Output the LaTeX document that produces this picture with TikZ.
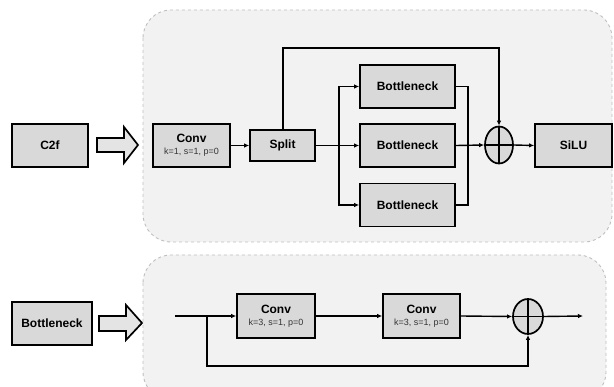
\documentclass[tikz,border=0pt]{standalone}
\usepackage{fontspec}
\setmainfont{Liberation Sans}
\usetikzlibrary{arrows.meta,shapes.geometric}
\definecolor{boxfill}{HTML}{D9D9D9}
\definecolor{panelfill}{HTML}{F2F2F2}
\definecolor{panelline}{HTML}{BFBFBF}
\definecolor{subtxt}{HTML}{333333}
\tikzset{
  blk/.style={draw=black,line width=1.7pt,fill=boxfill,inner sep=0pt,align=center,font=\fontsize{12}{13}\selectfont\bfseries},
  panel/.style={draw=panelline,dashed,line width=0.9pt,fill=panelfill,rounded corners=28pt},
  conn/.style={line width=1.4pt,-{Latex[length=5pt,width=4.5pt]}},
  wire/.style={line width=1.4pt},
  sumnode/.style={draw=black,line width=1.7pt,ellipse,fill=boxfill,inner sep=0pt},
  bigarrow/.style={draw=black,line width=1.7pt,fill=boxfill!70!white,line join=miter},
}
\newcommand{\sub}[1]{\\[-1pt]{\fontsize{9}{10}\selectfont\mdseries\color{subtxt}#1}}
\begin{document}
\begin{tikzpicture}[x=1pt,y=-1pt]
\clip (0,0) rectangle (614,387);
\fill[white] (0,0) rectangle (614,387);
% panels
\draw[panel] (143,10) rectangle (612,242);
\draw[panel] (143,255) rectangle (606,400);
% top row
\node[blk,minimum width=76pt,minimum height=43pt] (c2f) at (50,145.5) {C2f};
\draw[bigarrow] (97,138) -- (124,138) -- (124,127) -- (138,145) -- (124,163) -- (124,152) -- (97,152) -- cycle;
\node[blk,minimum width=77pt,minimum height=43pt] (conv) at (191.5,145.5) {Conv\sub{k=1, s=1, p=0}};
\node[blk,minimum width=65pt,minimum height=31pt] (split) at (282.5,145.5) {Split};
\node[blk,minimum width=95pt,minimum height=43pt] (bn1) at (407.5,86.5) {Bottleneck};
\node[blk,minimum width=95pt,minimum height=43pt] (bn2) at (407.5,145.5) {Bottleneck};
\node[blk,minimum width=95pt,minimum height=43pt] (bn3) at (407.5,205) {Bottleneck};
\node[sumnode,minimum width=28pt,minimum height=37pt] (sum1) at (499,145) {};
\draw[wire] (sum1.north) -- (sum1.south) (sum1.west) -- (sum1.east);
\node[blk,minimum width=77pt,minimum height=43pt] (silu) at (573.5,145.5) {SiLU};
\coordinate (fork) at (339,145.5);
\coordinate (join) at (468,145.5);
\draw[conn] (conv.east) -- (split.west);
\draw[conn] (split.east) -- (bn2.west);
\draw[conn] (fork) |- (bn1.west);
\draw[conn] (fork) |- (bn3.west);
\draw[wire] (bn1.east) -| (join);
\draw[wire] (bn3.east) -| (join);
\draw[conn] (bn2.east) -- (sum1.west);
\draw[conn] (split.north -| 283,0) |- (499,48) -- (sum1.north);
\draw[conn] (sum1.east) -- (silu.west);
% bottom row
\node[blk,minimum width=80pt,minimum height=43pt] (bneck) at (52,323.5) {Bottleneck};
\draw[bigarrow] (99,316) -- (126,316) -- (126,305) -- (142,323) -- (126,340) -- (126,331) -- (99,331) -- cycle;
\node[blk,minimum width=78pt,minimum height=44pt] (cv1) at (276,316) {Conv\sub{k=3, s=1, p=0}};
\node[blk,minimum width=77pt,minimum height=44pt] (cv2) at (421.5,316) {Conv\sub{k=3, s=1, p=0}};
\node[sumnode,minimum width=30pt,minimum height=35pt] (sum2) at (528,316.5) {};
\draw[wire] (sum2.north) -- (sum2.south) (sum2.west) -- (sum2.east);
\coordinate (in) at (175,316);
\coordinate (skip) at (207,316);
\coordinate (out) at (583,316);
\draw[conn] (in) -- (cv1.west);
\draw[conn] (cv1.east) -- (cv2.west);
\draw[conn] (cv2.east) -- (sum2.west);
\draw[conn] (sum2.east) -- (out);
\draw[conn] (skip) |- (528,366) -- (sum2.south);
\end{tikzpicture}
\end{document}
